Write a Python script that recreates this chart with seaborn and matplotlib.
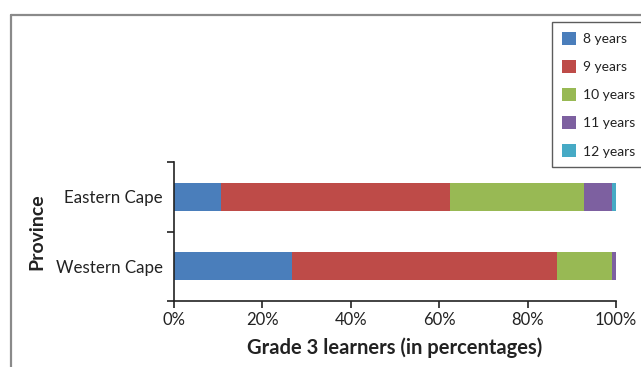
import matplotlib
matplotlib.use("Agg")
import matplotlib.pyplot as plt
from matplotlib.lines import Line2D
import seaborn as sns
import pandas as pd
import numpy as np

provinces = ["Eastern Cape", "Western Cape"]
age_groups = ["8 years", "9 years", "10 years", "11 years", "12 years"]
eastern_cape = [10.7, 51.7, 30.4, 6.3, 0.9]
western_cape = [26.7, 60.0, 12.4, 0.9, 0.0]
colors = ["#4A7EBB", "#BE4B48", "#98B954", "#7D60A0", "#46AAC5"]
xtick_values = [0, 20, 40, 60, 80, 100]
xtick_labels = ["0%", "20%", "40%", "60%", "80%", "100%"]

sns.set_theme(style="white")
plt.rcParams["font.family"] = ["Lato", "DejaVu Sans"]

W, H = 641, 367
fig = plt.figure(figsize=(W / 100, H / 100), dpi=100)
ax = fig.add_axes([174 / W, 1 - 301 / H, (616 - 174) / W, (301 - 162) / H])

values = np.array([eastern_cape, western_cape])
cum = np.cumsum(values, axis=1)
for i in range(len(age_groups) - 1, -1, -1):
    df = pd.DataFrame({"Province": provinces, "value": cum[:, i]})
    sns.barplot(data=df, x="value", y="Province", orient="h", color=colors[i],
                saturation=1, width=0.4, ax=ax, label=age_groups[i], linewidth=0)

ax.set_xlim(0, 100)
ax.set_ylim(1.5, -0.5)
ax.set_xticks(xtick_values)
ax.set_xticklabels(xtick_labels, fontsize=12, color="#222222")
ax.set_yticks([-0.5, 0.5, 1.5])
ax.set_yticklabels([])
ax.set_yticks([0, 1], minor=True)
ax.set_yticklabels(provinces, minor=True, fontsize=12.2, color="#222222")
ax.tick_params(axis="y", which="minor", length=0, pad=8)
ax.tick_params(axis="y", which="major", length=5, width=1.2, color="#222222", left=True, direction="out")
ax.tick_params(axis="x", which="major", length=5, width=1.2, color="#222222", bottom=True, direction="out", pad=3)
for s in ["top", "right"]:
    ax.spines[s].set_visible(False)
for s in ["left", "bottom"]:
    ax.spines[s].set_color("#222222")
    ax.spines[s].set_linewidth(1.2)
ax.set_xlabel("Grade 3 learners (in percentages)", fontsize=14.5, fontweight="bold", color="#222222", labelpad=7)
ax.set_ylabel("Province", fontsize=14, fontweight="bold", color="#222222")
ax.yaxis.set_label_coords((45 - 174) / 442, 0.5)

h, l = ax.get_legend_handles_labels()
order = [l.index(a) for a in age_groups]
leg = ax.legend([h[k] for k in order], [l[k] for k in order], loc="upper left",
                bbox_to_anchor=(552 / W, 1 - 22 / H), bbox_transform=fig.transFigure,
                borderaxespad=0, fontsize=10, frameon=True, fancybox=False,
                handlelength=1.05, handleheight=1.05, handletextpad=0.5,
                labelspacing=1.08, borderpad=0.7)
leg.get_frame().set_edgecolor("#333333")
leg.get_frame().set_linewidth(1.0)
for t in leg.get_texts():
    t.set_color("#222222")

fig.add_artist(Line2D([11 / W, 1], [1 - 15 / H, 1 - 15 / H], transform=fig.transFigure, color="#8a8a8a", lw=1.6))
fig.add_artist(Line2D([11 / W, 11 / W], [0, 1 - 15 / H], transform=fig.transFigure, color="#8a8a8a", lw=1.6))

fig.savefig("out.png", dpi=100)
